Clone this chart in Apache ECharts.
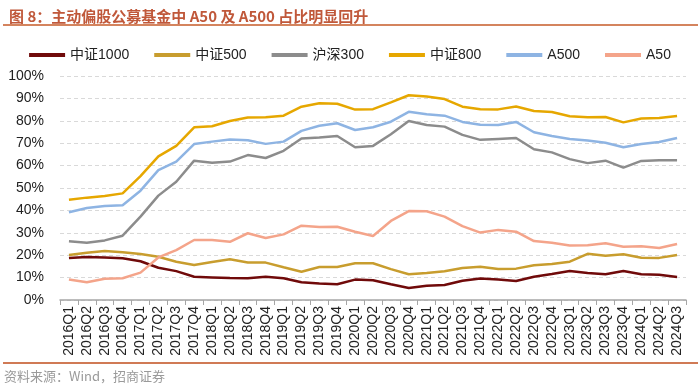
<!DOCTYPE html>
<html><head><meta charset="utf-8">
<script src="https://cdn.jsdelivr.net/npm/echarts@6/dist/echarts.min.js"></script>
<style>html,body{margin:0;padding:0;background:#fff;}#c{width:700px;height:390px;}</style>
</head><body><div id="c"></div>
<script>
const categories = ['2016Q1','2016Q2','2016Q3','2016Q4','2017Q1','2017Q2','2017Q3','2017Q4','2018Q1','2018Q2','2018Q3','2018Q4','2019Q1','2019Q2','2019Q3','2019Q4','2020Q1','2020Q2','2020Q3','2020Q4','2021Q1','2021Q2','2021Q3','2021Q4','2022Q1','2022Q2','2022Q3','2022Q4','2023Q1','2023Q2','2023Q3','2023Q4','2024Q1','2024Q2','2024Q3'];
const csi1000 = [18.8,19.2,19.0,18.6,17.3,14.4,12.9,10.4,10.1,9.8,9.7,10.4,9.7,7.9,7.4,7.0,9.1,8.8,7.0,5.4,6.4,6.7,8.6,9.6,9.2,8.5,10.4,11.6,12.9,12.1,11.5,12.9,11.5,11.3,10.3];
const csi500 = [20.1,21.1,21.9,21.3,20.5,19.3,17.1,15.6,17.0,18.2,16.7,16.7,14.6,12.6,14.7,14.7,16.4,16.4,13.8,11.5,12.1,12.8,14.3,14.8,13.8,14.0,15.5,16.1,17.1,20.6,19.8,20.4,18.9,18.8,20.1];
const hs300 = [26.2,25.6,26.6,28.7,37.2,46.6,52.8,62.2,61.3,61.8,64.7,63.4,66.6,72.1,72.5,73.2,68.2,68.8,74.0,79.9,78.1,77.4,73.7,71.5,71.9,72.3,67.3,65.9,62.9,61.1,62.2,59.1,62.1,62.4,62.4];
const csi800 = [44.8,45.7,46.4,47.6,55.3,64.1,68.8,77.1,77.6,79.9,81.5,81.6,82.3,86.3,87.8,87.6,85.0,85.2,88.2,91.4,90.8,89.7,86.3,85.2,85.1,86.4,84.4,83.9,82.0,81.6,81.7,79.3,81.0,81.3,82.1];
const a500 = [39.2,41.1,42.0,42.3,48.8,58.0,61.8,69.6,70.7,71.7,71.3,69.7,70.7,75.5,77.8,78.9,75.9,77.1,79.6,84.0,82.9,82.3,79.5,78.2,78.1,79.5,74.9,73.2,71.9,71.2,70.2,68.2,69.6,70.5,72.3];
const a50 = [9.2,7.9,9.5,9.7,12.2,19.0,22.3,26.8,26.8,26.0,29.8,27.7,29.3,33.2,32.6,32.7,30.5,28.6,35.3,39.7,39.6,37.2,33.0,30.1,31.3,30.5,26.3,25.6,24.3,24.4,25.3,23.8,24.0,23.2,25.0];
const yTicks = [0,10,20,30,40,50,60,70,80,90,100];

const seriesDefs = [
  {name:'中证1000', data:csi1000, color:'#700a0a'},
  {name:'中证500', data:csi500, color:'#c89d2e'},
  {name:'沪深300', data:hs300, color:'#8c8c8c'},
  {name:'中证800', data:csi800, color:'#e6a700'},
  {name:'A500', data:a500, color:'#8eb4e3'},
  {name:'A50', data:a50, color:'#f4a48a'}
];

const chart = echarts.init(document.getElementById('c'), null, {renderer:'canvas'});
chart.setOption({
  animation:false,
  backgroundColor:'#fff',
  title:{
    text:'图 8：主动偏股公募基金中 A50 及 A500 占比明显回升',
    left:4, top:4,
    textStyle:{color:'#c0583a', fontSize:15, fontWeight:'bold', fontFamily:'"Noto Sans CJK SC", sans-serif'}
  },
  graphic:[
    {type:'line', shape:{x1:3,y1:25,x2:698,y2:25}, style:{stroke:'#d4845e', lineWidth:2}},
    {type:'line', shape:{x1:3,y1:363,x2:698,y2:363}, style:{stroke:'#d07a55', lineWidth:2}},
    {type:'text', left:4, top:370, style:{text:'资料来源：Wind，招商证券', fill:'#9a9a9a', fontSize:13, fontFamily:'"Noto Sans CJK SC", sans-serif'}}
  ],
  legend:{
    top:43, left:'center',
    icon:'rect', itemWidth:36, itemHeight:4, itemGap:25,
    textStyle:{fontSize:14, color:'#222', fontFamily:'"Liberation Sans", "Noto Sans CJK SC", sans-serif'},
    data:seriesDefs.map(s=>s.name)
  },
  grid:{left:60, right:14, top:76, bottom:90, containLabel:false},
  xAxis:{
    type:'category', data:categories, boundaryGap:true,
    axisLine:{lineStyle:{color:'#a6a6a6', width:1.5}},
    axisTick:{show:true, length:5, lineStyle:{color:'#a6a6a6'}, alignWithLabel:false},
    axisLabel:{rotate:90, interval:0, fontSize:14, color:'#222', margin:6, fontFamily:'"Liberation Sans", sans-serif'}
  },
  yAxis:{
    type:'value', min:yTicks[0], max:yTicks[yTicks.length-1], interval:10,
    axisLine:{show:false}, axisTick:{show:false},
    axisLabel:{formatter:'{value}%', fontSize:14, color:'#222', margin:16, fontFamily:'"Liberation Sans", sans-serif'},
    splitLine:{lineStyle:{color:'#d9d9d9', type:[4,3]}}
  },
  series:seriesDefs.map(s=>({
    name:s.name, type:'line', data:s.data, symbol:'none', smooth:false,
    lineStyle:{color:s.color, width:2.5}, itemStyle:{color:s.color}
  }))
});
</script></body></html>
